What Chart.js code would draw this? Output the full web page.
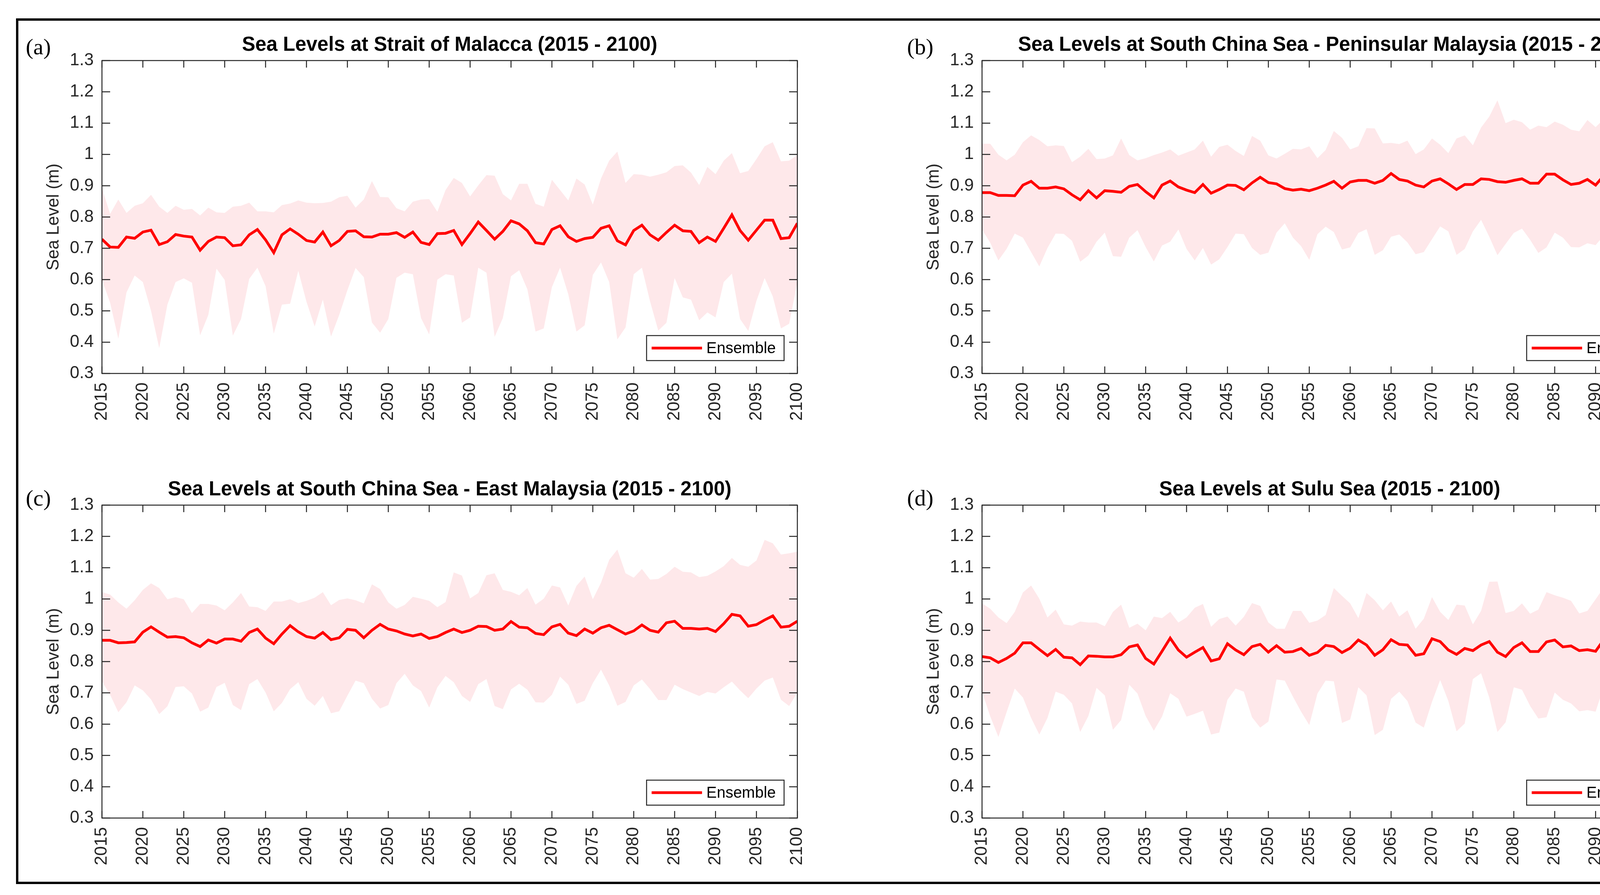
<!DOCTYPE html>
<html>
<head>
<meta charset="utf-8">
<title>Sea Levels 2015 - 2100</title>
<script src="https://cdn.jsdelivr.net/npm/chart.js@4.4.1/dist/chart.umd.min.js"></script>
<style>
  html, body { margin: 0; padding: 0; background: #fff; }
  #figure { position: relative; width: 4451px; height: 2291px; overflow: hidden; background: #fff; }
  #frame { position: absolute; left: 41px; top: 47px; width: 4373px; height: 2216px; border: 6px solid #000; box-sizing: border-box; }
  #figure canvas { position: absolute; }
  .tag { position: absolute; font-family: "Liberation Serif", "Times New Roman", serif; font-size: 58px; line-height: 58px; color: #000; z-index: 2; }
</style>
</head>
<body>
<div id="figure">
  <div id="frame"></div>
  <div class="tag" style="left:66px;top:91px">(a)</div>
  <div class="tag" style="left:2322px;top:91px">(b)</div>
  <div class="tag" style="left:66px;top:1246px">(c)</div>
  <div class="tag" style="left:2322px;top:1246px">(d)</div>
</div>
<script>
// years on the x axis
const years = Array.from({ length: 86 }, (_, i) => 2015 + i);
const yTicks = [0.3, 0.4, 0.5, 0.6, 0.7, 0.8, 0.9, 1.0, 1.1, 1.2, 1.3];

// (a) Strait of Malacca
const malaccaMean = [
  0.729,0.704,0.703,0.736,0.732,0.752,0.758,0.712,0.721,0.744,
  0.739,0.736,0.694,0.722,0.736,0.734,0.708,0.711,0.743,0.760,
  0.727,0.686,0.743,0.762,0.745,0.725,0.720,0.752,0.708,0.725,
  0.754,0.756,0.737,0.736,0.745,0.745,0.750,0.735,0.752,0.719,
  0.712,0.747,0.748,
  0.757,0.712,0.747,0.784,0.757,0.729,0.754,0.788,0.778,0.756,
  0.718,0.714,0.760,0.772,0.737,0.722,0.731,0.735,0.764,0.772,
  0.724,0.711,0.757,0.774,0.743,0.726,0.751,0.774,0.756,0.754,
  0.718,0.736,0.722,0.764,0.807,0.757,0.726,0.758,0.790,0.790,
  0.731,0.734,0.780
];
const malaccaUpper = [
  0.892,0.810,0.856,0.813,0.836,0.844,0.871,0.833,0.813,0.836,
  0.823,0.826,0.805,0.830,0.815,0.813,0.833,0.836,0.846,0.818,
  0.818,0.815,0.838,0.843,0.853,0.846,0.844,0.845,0.849,0.863,
  0.868,0.830,0.856,0.915,0.864,0.863,0.828,0.818,0.849,0.856,
  0.857,0.817,0.886,
  0.925,0.909,0.866,0.901,0.934,0.932,0.873,0.853,0.906,0.906,
  0.842,0.833,0.919,0.886,0.853,0.923,0.904,0.840,0.923,0.980,
  1.009,0.909,0.937,0.935,0.929,0.935,0.943,0.963,0.965,0.942,
  0.902,0.960,0.937,0.980,1.004,0.940,0.947,0.985,1.026,1.039,
  0.978,0.980,0.998
];
const malaccaLower = [
  0.599,0.526,0.411,0.559,0.613,0.592,0.500,0.381,0.520,0.592,
  0.604,0.590,0.422,0.487,0.635,0.599,0.421,0.474,0.602,0.638,
  0.579,0.427,0.520,0.523,0.628,0.529,0.450,0.536,0.418,0.487,
  0.566,0.637,0.608,0.463,0.430,0.474,0.606,0.622,0.617,0.477,
  0.425,0.600,0.617,
  0.613,0.462,0.479,0.638,0.622,0.417,0.477,0.611,0.630,0.569,
  0.434,0.444,0.576,0.638,0.553,0.434,0.454,0.615,0.655,0.592,
  0.409,0.447,0.617,0.638,0.530,0.437,0.462,0.605,0.543,0.536,
  0.470,0.495,0.479,0.592,0.619,0.474,0.436,0.532,0.605,0.546,
  0.444,0.459,0.592
];

// (b) South China Sea - Peninsular Malaysia
const peninsularMean = [
  0.878,0.878,0.869,0.869,0.868,0.902,0.914,0.892,0.892,0.896,
  0.890,0.871,0.855,0.884,0.861,0.884,0.882,0.879,0.898,0.904,
  0.881,0.861,0.902,0.915,0.896,0.886,0.878,0.904,0.876,0.888,
  0.902,0.901,0.887,0.909,0.927,0.910,0.906,0.891,0.886,0.889,
  0.884,0.892,0.902,
  0.914,0.892,0.912,0.917,0.917,0.908,0.917,0.939,0.920,0.915,
  0.902,0.896,0.915,0.922,0.906,0.888,0.904,0.904,0.922,0.920,
  0.913,0.911,0.917,0.922,0.908,0.908,0.937,0.937,0.919,0.904,
  0.908,0.920,0.902,0.932,0.956,0.955,0.922,0.935,0.939,0.955,
  0.914,0.925,0.939
];
const peninsularUpper = [
  1.034,1.034,0.999,0.981,0.999,1.039,1.061,1.046,1.026,1.029,
  1.027,0.975,0.993,1.018,0.985,0.987,0.997,1.051,0.998,0.981,
  0.988,0.998,1.006,1.016,0.996,1.006,1.016,1.044,0.993,1.024,
  1.031,1.011,0.995,1.059,1.044,0.997,0.987,1.002,1.018,1.016,
  1.026,0.988,1.014,
  1.075,1.053,1.016,1.026,1.084,1.083,1.035,1.037,1.033,1.044,
  1.001,1.016,1.051,1.031,1.004,1.051,1.061,1.029,1.086,1.121,
  1.173,1.100,1.111,1.103,1.079,1.092,1.087,1.105,1.095,1.079,
  1.074,1.110,1.087,1.113,1.140,1.115,1.114,1.143,1.179,1.184,
  1.140,1.159,1.156
];
const peninsularLower = [
  0.760,0.718,0.661,0.698,0.747,0.734,0.688,0.642,0.701,0.747,
  0.746,0.724,0.657,0.677,0.721,0.750,0.675,0.673,0.734,0.758,
  0.704,0.658,0.709,0.721,0.760,0.698,0.661,0.701,0.648,0.665,
  0.704,0.747,0.745,0.701,0.679,0.686,0.750,0.780,0.734,0.707,
  0.663,0.745,0.769,
  0.752,0.696,0.703,0.749,0.761,0.679,0.694,0.737,0.744,0.719,
  0.681,0.688,0.729,0.770,0.754,0.679,0.698,0.754,0.791,0.737,
  0.678,0.714,0.749,0.763,0.727,0.685,0.703,0.750,0.734,0.704,
  0.703,0.716,0.710,0.741,0.749,0.731,0.704,0.752,0.761,0.769,
  0.696,0.686,0.724
];

// (c) South China Sea - East Malaysia
const eastMean = [
  0.868,0.868,0.860,0.861,0.863,0.894,0.911,0.894,0.878,0.880,
  0.876,0.860,0.848,0.869,0.859,0.872,0.872,0.865,0.893,0.904,
  0.875,0.857,0.888,0.915,0.895,0.880,0.875,0.893,0.870,0.876,
  0.903,0.900,0.876,0.900,0.919,0.904,0.898,0.888,0.882,0.888,
  0.874,0.880,0.893,
  0.904,0.893,0.900,0.913,0.912,0.900,0.904,0.928,0.910,0.908,
  0.890,0.886,0.911,0.919,0.891,0.883,0.904,0.891,0.908,0.916,
  0.902,0.888,0.898,0.917,0.900,0.894,0.924,0.929,0.906,0.906,
  0.904,0.906,0.896,0.921,0.951,0.946,0.913,0.918,0.933,0.946,
  0.910,0.913,0.929
];
const eastUpper = [
  1.022,1.014,0.989,0.969,0.996,1.029,1.050,1.035,0.999,1.006,
  0.999,0.955,0.984,0.984,0.979,0.964,0.989,1.019,0.976,0.974,
  0.962,0.992,0.992,0.999,0.987,0.994,1.004,1.022,0.980,0.997,
  1.002,0.996,0.986,1.047,1.032,0.989,0.969,0.981,1.007,1.001,
  0.994,0.974,0.990,
  1.085,1.075,1.002,1.019,1.076,1.082,1.029,1.023,1.012,1.035,
  0.982,1.001,1.043,1.037,0.979,1.042,1.072,0.999,1.052,1.125,
  1.158,1.082,1.068,1.096,1.062,1.064,1.080,1.103,1.087,1.085,
  1.070,1.074,1.088,1.105,1.131,1.109,1.103,1.123,1.189,1.178,
  1.142,1.146,1.151
];
const eastLower = [
  0.737,0.694,0.638,0.670,0.724,0.708,0.679,0.632,0.657,0.719,
  0.721,0.698,0.640,0.653,0.719,0.732,0.661,0.645,0.728,0.744,
  0.701,0.641,0.668,0.712,0.734,0.681,0.659,0.690,0.635,0.641,
  0.691,0.739,0.731,0.681,0.650,0.661,0.731,0.761,0.724,0.706,
  0.653,0.718,0.754,
  0.734,0.690,0.671,0.728,0.744,0.658,0.648,0.711,0.729,0.710,
  0.670,0.669,0.694,0.752,0.726,0.665,0.675,0.731,0.774,0.724,
  0.659,0.671,0.724,0.743,0.712,0.677,0.677,0.726,0.712,0.701,
  0.690,0.703,0.698,0.718,0.736,0.708,0.683,0.714,0.739,0.749,
  0.678,0.658,0.701
];

// (d) Sulu Sea
const suluMean = [
  0.816,0.812,0.797,0.810,0.827,0.860,0.860,0.839,0.819,0.839,
  0.814,0.812,0.790,0.818,0.817,0.815,0.815,0.822,0.847,0.853,
  0.810,0.792,0.833,0.875,0.837,0.814,0.830,0.845,0.802,0.809,
  0.857,0.837,0.822,0.848,0.855,0.830,0.851,0.830,0.832,0.842,
  0.820,0.829,0.852,
  0.848,0.829,0.843,0.869,0.853,0.820,0.838,0.870,0.855,0.853,
  0.820,0.825,0.873,0.864,0.837,0.823,0.842,0.835,0.853,0.864,
  0.830,0.816,0.845,0.860,0.832,0.832,0.863,0.869,0.847,0.850,
  0.835,0.838,0.833,0.870,0.903,0.864,0.842,0.853,0.885,0.880,
  0.830,0.840,0.873
];
const suluUpper = [
  0.986,0.969,0.941,0.923,0.959,1.021,1.043,1.001,0.941,0.966,
  0.919,0.915,0.928,0.925,0.925,0.913,0.959,0.982,0.908,0.921,
  0.900,0.944,0.939,0.959,0.925,0.941,0.972,0.984,0.911,0.936,
  0.944,0.915,0.943,0.987,0.978,0.925,0.905,0.905,0.962,0.962,
  0.924,0.931,0.949,
  1.035,1.010,0.986,0.939,1.019,0.996,0.964,0.992,0.944,0.964,
  0.905,0.937,1.006,0.959,0.933,0.982,0.979,0.919,0.962,1.055,
  1.056,0.955,0.962,0.986,0.953,0.966,1.022,1.012,1.004,0.994,
  0.954,0.962,0.999,1.037,1.037,0.984,0.987,1.039,1.111,1.062,
  1.019,1.041,1.041
];
const suluLower = [
  0.704,0.625,0.559,0.638,0.714,0.685,0.620,0.567,0.620,0.704,
  0.694,0.666,0.575,0.626,0.716,0.692,0.582,0.613,0.726,0.698,
  0.626,0.579,0.624,0.699,0.681,0.624,0.633,0.643,0.567,0.573,
  0.678,0.714,0.704,0.622,0.589,0.608,0.743,0.739,0.688,0.640,
  0.597,0.698,0.739,
  0.737,0.604,0.615,0.718,0.692,0.565,0.582,0.681,0.704,0.674,
  0.605,0.589,0.671,0.741,0.674,0.577,0.602,0.744,0.763,0.685,
  0.575,0.606,0.718,0.710,0.658,0.618,0.622,0.701,0.678,0.666,
  0.641,0.645,0.640,0.720,0.721,0.625,0.613,0.674,0.741,0.698,
  0.597,0.587,0.694
];

const FONT = '"Liberation Sans", Arial, Helvetica, sans-serif';
const AXIS_COLOR = '#262626';

// MATLAB-like box: frame, inward ticks on all sides, legend in the lower right
const matlabBox = {
  id: 'matlabBox',
  afterDatasetsDraw(chart) {
    const { ctx, chartArea: a, scales } = chart;
    ctx.save();
    ctx.strokeStyle = AXIS_COLOR;
    ctx.lineWidth = 2.5;
    ctx.strokeRect(a.left, a.top, a.right - a.left, a.bottom - a.top);

    ctx.beginPath();
    scales.x.ticks.forEach(t => {
      const px = scales.x.getPixelForValue(t.value);
      ctx.moveTo(px, a.bottom); ctx.lineTo(px, a.bottom - 18);
      ctx.moveTo(px, a.top); ctx.lineTo(px, a.top + 18);
    });
    scales.y.ticks.forEach(t => {
      const py = scales.y.getPixelForValue(t.value);
      ctx.moveTo(a.left, py); ctx.lineTo(a.left + 21, py);
      ctx.moveTo(a.right, py); ctx.lineTo(a.right - 21, py);
    });
    ctx.stroke();

    // legend
    const ds = chart.data.datasets[0];
    const bw = 352, bh = 64;
    const bx = a.right - 34 - bw, by = a.bottom - 33 - bh;
    ctx.fillStyle = '#fff';
    ctx.fillRect(bx, by, bw, bh);
    ctx.strokeRect(bx, by, bw, bh);
    ctx.beginPath();
    ctx.strokeStyle = ds.borderColor;
    ctx.lineWidth = ds.borderWidth;
    ctx.moveTo(bx + 13, by + bh / 2);
    ctx.lineTo(bx + 142, by + bh / 2);
    ctx.stroke();
    ctx.fillStyle = '#000';
    ctx.font = `40px ${FONT}`;
    ctx.textBaseline = 'middle';
    ctx.textAlign = 'left';
    ctx.fillText(ds.label, bx + 153, by + bh / 2 + 2);
    ctx.restore();
  }
};

function toPoints(values) {
  return values.map((v, i) => ({ x: years[i], y: v }));
}

function drawPanel(plotLeft, plotTop, title, mean, lower, upper) {
  const plotW = 1826, plotH = 801;
  const canvas = document.createElement('canvas');
  canvas.width = plotW + 230;
  canvas.height = plotH + 250;
  canvas.style.left = (plotLeft - 200) + 'px';
  canvas.style.top = (plotTop - 110) + 'px';
  canvas.style.width = canvas.width + 'px';
  canvas.style.height = canvas.height + 'px';
  document.getElementById('figure').appendChild(canvas);

  new Chart(canvas.getContext('2d'), {
    type: 'line',
    data: {
      datasets: [
        { label: 'Ensemble', data: toPoints(mean), borderColor: '#ff0000', borderWidth: 7,
          pointRadius: 0, tension: 0, fill: false, order: 0 },
        { label: 'min', data: toPoints(lower), borderColor: 'rgba(0,0,0,0)', borderWidth: 0,
          pointRadius: 0, tension: 0, fill: false, order: 2 },
        { label: 'max', data: toPoints(upper), borderColor: 'rgba(0,0,0,0)', borderWidth: 0,
          backgroundColor: '#fee8ea', pointRadius: 0, tension: 0, fill: '-1', order: 1 }
      ]
    },
    options: {
      responsive: false,
      animation: false,
      devicePixelRatio: 1,
      layout: { padding: { right: 30 } },
      plugins: {
        legend: { display: false },
        tooltip: { enabled: false },
        // title centred over the plot area, not the whole canvas
        title: {
          display: true, fullSize: false, text: title, color: '#000',
          font: { family: FONT, size: 51, weight: 'bold', lineHeight: 1.2 },
          padding: { top: 40, bottom: 8.8 }
        }
      },
      scales: {
        x: {
          type: 'linear', min: years[0], max: years[years.length - 1], offset: false,
          grid: { display: false, drawTicks: false },
          border: { display: false },
          ticks: {
            stepSize: 5, autoSkip: false, minRotation: 90, maxRotation: 90, padding: 23,
            color: AXIS_COLOR, font: { family: FONT, size: 44 },
            callback: v => String(v)
          },
          afterFit: s => { s.height = 140; }
        },
        y: {
          min: yTicks[0], max: yTicks[yTicks.length - 1],
          grid: { display: false, drawTicks: false },
          border: { display: false },
          afterBuildTicks: s => { s.ticks = yTicks.map(v => ({ value: v })); },
          ticks: {
            padding: 21, color: AXIS_COLOR, font: { family: FONT, size: 44 },
            callback: v => String(Math.round(v * 10) / 10)
          },
          title: {
            display: true, text: 'Sea Level (m)', color: AXIS_COLOR,
            font: { family: FONT, size: 44, lineHeight: 1.2 },
            padding: { top: 50, bottom: 0 }
          },
          afterFit: s => { s.width = 200; }
        }
      }
    },
    plugins: [matlabBox]
  });
}

drawPanel(261, 155, 'Sea Levels at Strait of Malacca (2015 - 2100)', malaccaMean, malaccaLower, malaccaUpper);
drawPanel(2514, 155, 'Sea Levels at South China Sea - Peninsular Malaysia (2015 - 2100)', peninsularMean, peninsularLower, peninsularUpper);
drawPanel(261, 1293, 'Sea Levels at South China Sea - East Malaysia (2015 - 2100)', eastMean, eastLower, eastUpper);
drawPanel(2514, 1293, 'Sea Levels at Sulu Sea (2015 - 2100)', suluMean, suluLower, suluUpper);
</script>
</body>
</html>
